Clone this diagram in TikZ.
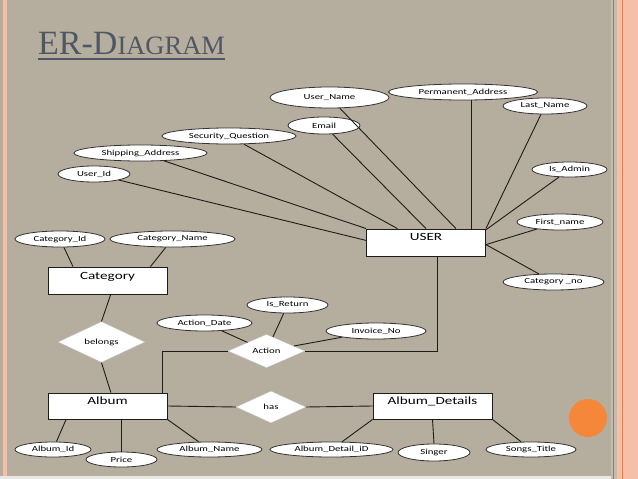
\documentclass[tikz,border=0pt]{standalone}
\usepackage{fontspec}
\setmainfont{Liberation Serif}
\newfontfamily\erfont[FakeStretch=1.38]{Carlito}
\usetikzlibrary{shapes.geometric}
\definecolor{slidebg}{RGB}{181,173,157}
\definecolor{slidepink}{RGB}{246,192,168}
\definecolor{stripgray}{RGB}{196,189,175}
\definecolor{slideorange}{RGB}{245,135,58}
\definecolor{titleslate}{RGB}{80,87,100}
\definecolor{linedark}{RGB}{30,28,25}

\begin{document}
\begin{tikzpicture}[x=1pt, y=-1pt,
    attr/.style={ellipse, draw=black!80, fill=white, line width=0.8pt, inner sep=0pt,
        font=\erfont\fontsize{7.8pt}{8pt}\selectfont},
    entity/.style={rectangle, draw=linedark, fill=white, line width=0.9pt, inner sep=0pt,
        minimum width=119pt, font=\erfont\fontsize{11pt}{12pt}\selectfont},
    relation/.style={diamond, draw=white!75!black, fill=white, line width=0.4pt, inner sep=0pt,
        font=\erfont\fontsize{7.8pt}{8pt}\selectfont},
    conn/.style={draw=linedark, line width=0.9pt}]
    \useasboundingbox (0,0) rectangle (638,479);

    % Nền trang chiếu
    \fill[slidebg] (0,0) rectangle (638,479);
    \fill[slidepink] (3,0) rectangle (7,479);
    \fill[white!70!slidebg] (0,476) rectangle (611,479);
    \fill[stripgray] (611,0) rectangle (617,479);
    \draw[black!25!slidebg, line width=0.6pt] (613,0) -- (613,479);
    \fill[slidepink] (617,0) rectangle (638,479);
    \draw[slideorange!90!red, line width=1.2pt] (622.5,0) -- (622.5,479);
    \fill[slideorange] (588,418) circle (19);

    % Tiêu đề
    \node[anchor=base west, inner sep=0pt, text=titleslate, font=\fontsize{34pt}{36pt}\selectfont] (title) at (38,54.3)
        {ER-D\fontsize{26.5pt}{28pt}\selectfont IAGRAM};
    \draw[titleslate, line width=1.4pt] (38,59) -- (225,59);

    % Thực thể
    \node[entity, text height=11pt, text depth=16pt] (user) at (426,242.5) {USER};
    \node[entity, text height=12pt, text depth=15pt] (cat) at (107.5,280.5) {Category};
    \node[entity, text height=11pt, text depth=15pt] (album) at (107.5,406) {Album};
    \node[entity, text height=11pt, text depth=15pt] (details) at (432.5,406) {Album\_Details};

    % Quan hệ
    \node[relation, minimum width=87pt, minimum height=33pt] (belongs) at (101.5,342) {belongs};
    \node[relation, minimum width=77pt, minimum height=32pt] (action) at (266.5,351) {Action};
    \node[relation, minimum width=70pt, minimum height=32pt] (has) at (271,407) {has};

    % Thuộc tính của USER
    \node[attr, minimum width=119pt, minimum height=21pt] (uname) at (329.5,97.5) {User\_Name};
    \node[attr, minimum width=149pt, minimum height=16pt] (paddr) at (463,92) {Permanent\_Address};
    \node[attr, minimum width=84pt, minimum height=16pt] (lname) at (545,106) {Last\_Name};
    \node[attr, minimum width=72pt, minimum height=17pt] (email) at (324,125.5) {Email};
    \node[attr, minimum width=134pt, minimum height=16pt] (secq) at (229,136) {Security\_Question};
    \node[attr, minimum width=133pt, minimum height=16pt] (ship) at (140.5,153) {Shipping\_Address};
    \node[attr, minimum width=72pt, minimum height=16pt] (uid) at (94,174) {User\_Id};
    \node[attr, minimum width=75pt, minimum height=15pt] (admin) at (569.5,169.5) {Is\_Admin};
    \node[attr, minimum width=86pt, minimum height=16pt] (fname) at (560,222) {First\_name};
    \node[attr, minimum width=101pt, minimum height=16pt] (catno) at (553.5,282) {Category \_no};

    % Thuộc tính của Category và Action
    \node[attr, minimum width=90pt, minimum height=16pt] (catid) at (60,239) {Category\_Id};
    \node[attr, minimum width=125pt, minimum height=16pt] (catname) at (172.5,239) {Category\_Name};
    \node[attr, minimum width=81pt, minimum height=16pt] (isret) at (287.5,305) {Is\_Return};
    \node[attr, minimum width=95pt, minimum height=16pt] (adate) at (204.5,323) {Action\_Date};
    \node[attr, minimum width=100pt, minimum height=16pt] (invno) at (376,331) {Invoice\_No};

    % Thuộc tính của Album và Album_Details
    \node[attr, minimum width=76pt, minimum height=15pt] (aid) at (53,449.5) {Album\_Id};
    \node[attr, minimum width=71pt, minimum height=15pt] (price) at (121.5,459.5) {Price};
    \node[attr, minimum width=105pt, minimum height=15pt] (aname) at (209.5,449.5) {Album\_Name};
    \node[attr, minimum width=123pt, minimum height=15pt] (adid) at (331.5,449.5) {Album\_Detail\_iD};
    \node[attr, minimum width=72pt, minimum height=17pt] (singer) at (434,452.5) {Singer};
    \node[attr, minimum width=90pt, minimum height=15pt] (songs) at (531,449.5) {Songs\_Title};

    % Nối thuộc tính với USER
    \draw[conn] (uid) -- (user.178);
    \draw[conn] (ship) -- (user.north west);
    \draw[conn] (secq) -- (user.154);
    \draw[conn] (email) -- (user.north);
    \draw[conn] (uname) -- (user.25);
    \draw[conn] (user.17 |- paddr.south) -- (user.17);
    \draw[conn] (lname) -- (user.north east);
    \draw[conn] (admin) -- (user.12);
    \draw[conn] (fname) -- (user.358);
    \draw[conn] (catno) -- (user.358);

    % Category, belongs, Album
    \draw[conn] (catid) -- (cat.158);
    \draw[conn] (catname) -- (cat.18);
    \draw[conn] (cat.283) -- (belongs.north);
    \draw[conn] (belongs.south) -- (album.76);

    % Action
    \draw[conn] (adate) -- (action);
    \draw[conn] (isret) -- (action);
    \draw[conn] (invno) -- (action);
    \draw[conn] ([xshift=-5.5pt]album.north east) |- (action.west);
    \draw[conn] (action.east) -| ([xshift=11.3pt]user.south);

    % has
    \draw[conn] (album.east) -- (has.west);
    \draw[conn] (has.east) -- (details.west);

    % Thuộc tính dưới cùng
    \draw[conn] (aid) -- (album.198);
    \draw[conn] (album.south -| price.north) -- (price.north);
    \draw[conn] (aname) -- (album.south east);
    \draw[conn] (adid) -- (details.south west);
    \draw[conn] (details.south) -- (singer.north);
    \draw[conn] (songs) -- (details.south east);
\end{tikzpicture}
\end{document}
